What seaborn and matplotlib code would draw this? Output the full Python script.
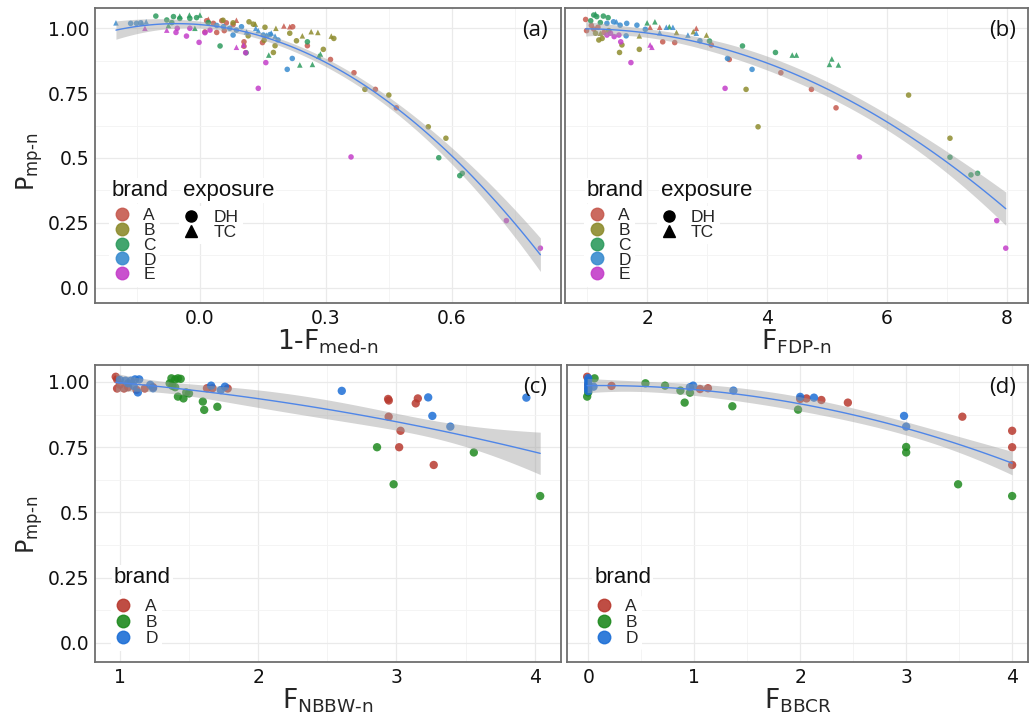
import numpy as np
import pandas as pd
import matplotlib
matplotlib.use("Agg")
import matplotlib.pyplot as plt
from matplotlib.lines import Line2D
from matplotlib.ticker import MultipleLocator
import seaborn as sns

# ---------------- data ----------------
# panel (a): x = 1-F_med-n, y = P_mp-n, points as (x, y)
a_A_dh = [(0.016, 1.028), (0.032, 1.018), (0.052, 1.028), (0.063, 1.02), (0.012, 0.985),
          (0.04, 0.983), (0.058, 0.99), (0.079, 1.013), (0.105, 0.947), (0.105, 0.93),
          (0.149, 0.944), (0.221, 1.005), (0.256, 0.932), (0.311, 0.879), (0.367, 0.828),
          (0.418, 0.764), (0.468, 0.693)]
a_A_tc = [(0.087, 1.03), (0.2, 1.008), (0.214, 1.005), (0.02, 1.034)]
a_B_dh = [(0.117, 1.024), (0.127, 1.015), (0.115, 0.97), (0.155, 1.003), (0.214, 0.98),
          (0.23, 0.951), (0.179, 0.932), (0.175, 0.906), (0.153, 0.953), (0.319, 0.96),
          (0.294, 0.918), (0.055, 1.03), (0.079, 1.02), (0.393, 0.764), (0.45, 0.742),
          (0.544, 0.62), (0.586, 0.576)]
a_B_tc = [(0.181, 0.999), (0.244, 0.97), (0.265, 0.986), (0.281, 0.983), (0.313, 0.969),
          (0.132, 1.015)]
a_C_dh = [(-0.105, 1.046), (-0.079, 1.031), (-0.063, 1.044), (-0.048, 1.037), (-0.024, 1.037),
          (-0.008, 1.04), (0.02, 1.021), (-0.067, 1.021), (0.048, 0.931), (0.11, 0.905),
          (0.256, 0.947), (0.569, 0.501), (0.619, 0.432), (0.625, 0.441)]
a_C_tc = [(-0.075, 1.01), (-0.048, 1.046), (-0.025, 1.05), (0.0, 1.05), (-0.012, 0.999),
          (0.164, 0.896), (0.238, 0.858), (0.268, 0.86), (0.283, 0.892), (0.287, 0.9)]
a_D_dh = [(-0.165, 1.018), (-0.151, 1.018), (-0.141, 1.02), (0.04, 1.01), (0.056, 1.005),
          (0.071, 0.999), (0.087, 0.992), (0.099, 1.005), (0.079, 0.973), (0.186, 0.954),
          (0.22, 0.883), (0.208, 0.841), (0.151, 0.973), (0.167, 0.975)]
a_D_tc = [(-0.2, 1.02), (-0.138, 1.02), (-0.128, 1.024), (0.133, 0.999), (0.139, 0.99),
          (0.159, 0.973), (0.17, 0.981), (0.179, 0.969), (0.111, 0.985)]
a_E_dh = [(-0.057, 0.983), (-0.054, 0.999), (-0.032, 0.969), (-0.024, 0.999), (-0.002, 0.945),
          (0.012, 0.982), (0.024, 0.992), (0.109, 0.905), (0.157, 0.867), (0.139, 0.768),
          (0.36, 0.504), (0.73, 0.259), (0.811, 0.153)]
a_E_tc = [(-0.131, 0.999), (-0.079, 0.992), (0.087, 0.926), (0.104, 0.935)]

# panel (b): x = F_FDP-n
b_A_dh = [(0.975, 1.033), (0.99, 0.99), (1.11, 0.996), (1.28, 0.983), (1.07, 1.01),
          (1.18, 1.003), (2.26, 0.947), (2.46, 0.944), (3.07, 0.935), (3.37, 0.879),
          (4.23, 0.828), (4.74, 0.764), (5.15, 0.693)]
b_A_tc = [(2.05, 1.003), (2.21, 1.003), (2.82, 0.999)]
b_B_dh = [(1.195, 0.954), (1.25, 0.96), (1.14, 0.98), (1.58, 0.935), (1.54, 0.906),
          (1.87, 0.918), (3.65, 0.764), (3.85, 0.62), (6.36, 0.742), (7.05, 0.576), (1.36, 0.99)]
b_B_tc = [(1.87, 0.97), (2.49, 0.983), (2.77, 0.986), (2.99, 0.973), (1.22, 0.98)]
b_C_dh = [(1.11, 1.05), (1.16, 1.044), (1.27, 1.046), (1.35, 1.04), (1.22, 1.021),
          (1.06, 1.028), (3.04, 0.95), (3.59, 0.931), (4.14, 0.906), (7.05, 0.503),
          (7.40, 0.435), (7.51, 0.441)]
b_C_tc = [(1.14, 1.054), (2.0, 1.02), (2.13, 1.024), (2.37, 1.005), (4.42, 0.896),
          (4.49, 0.896), (5.08, 0.881), (5.04, 0.86), (5.19, 0.858)]
b_D_dh = [(1.44, 1.024), (1.55, 1.011), (1.66, 1.018), (1.83, 1.011), (1.97, 0.995),
          (1.65, 0.97), (2.88, 0.951), (3.34, 0.883), (3.75, 0.841), (1.33, 1.018)]
b_D_tc = [(2.21, 0.982), (2.32, 1.003), (2.43, 1.003), (2.68, 0.973), (2.82, 0.98), (1.49, 1.024)]
b_E_dh = [(1.39, 0.98), (1.45, 0.967), (1.53, 0.973), (1.56, 0.947), (1.73, 0.867),
          (3.30, 0.768), (5.54, 0.504), (7.83, 0.259), (7.98, 0.153), (1.33, 0.973)]
b_E_tc = [(2.05, 0.935), (2.08, 0.926)]

# panel (c): x = F_NBBW-n
c_A = [(0.97, 1.02), (0.98, 1.01), (1.0, 0.99), (1.03, 0.975), (0.98, 0.975), (1.06, 0.98),
       (1.12, 0.97), (1.18, 0.975), (1.24, 0.98), (1.63, 0.976), (1.67, 0.976), (1.78, 0.975),
       (2.94, 0.935), (2.945, 0.929), (3.14, 0.918), (3.155, 0.937), (2.944, 0.867),
       (3.03, 0.813), (3.02, 0.75), (3.27, 0.682)]
c_B = [(1.36, 0.995), (1.373, 1.014), (1.40, 1.01), (1.42, 1.014), (1.44, 1.012), (1.38, 0.985),
       (1.40, 0.98), (1.42, 0.944), (1.46, 0.937), (1.48, 0.96), (1.50, 0.956), (1.60, 0.925),
       (1.61, 0.893), (1.705, 0.905), (2.86, 0.75), (2.98, 0.608), (3.56, 0.73), (4.04, 0.563)]
c_D = [(1.0, 1.008), (1.04, 1.005), (1.08, 1.005), (1.11, 1.01), (1.14, 1.01), (1.06, 0.995),
       (1.10, 0.985), (1.13, 0.96), (1.22, 0.989), (1.24, 0.976), (1.66, 0.986), (1.73, 0.969),
       (1.76, 0.982), (2.605, 0.966), (3.23, 0.941), (3.26, 0.87), (3.39, 0.829), (3.94, 0.94)]

# panel (d): x = F_BBCR
d_A = [(-0.01, 1.02), (0.0, 0.99), (0.0, 0.975), (0.22, 0.985), (1.055, 0.973), (1.13, 0.976),
       (2.0, 0.935), (2.06, 0.937), (2.2, 0.931), (2.45, 0.921), (3.53, 0.867), (4.0, 0.813),
       (4.0, 0.75), (4.0, 0.682)]
d_B = [(-0.01, 0.944), (0.0, 0.96), (0.06, 1.014), (0.54, 0.995), (0.725, 0.986), (0.87, 0.967),
       (0.96, 0.959), (0.91, 0.921), (1.36, 0.907), (1.98, 0.894), (3.0, 0.751), (3.0, 0.73),
       (3.49, 0.608), (4.0, 0.563)]
d_D = [(0.0, 1.015), (0.0, 1.005), (0.0, 0.995), (0.0, 0.985), (0.0, 0.975), (0.0, 0.965),
       (0.05, 0.982), (0.96, 0.98), (0.99, 0.986), (1.37, 0.967), (2.0, 0.943), (2.13, 0.94),
       (2.98, 0.87), (3.0, 0.829)]

brands5 = ["A", "B", "C", "D", "E"]
colors5 = ["#C65A4F", "#8E8C2E", "#2E9B5E", "#3A8CCF", "#C43EC9"]
brands3 = ["A", "B", "D"]
colors3 = ["#B83A2F", "#1F8A1F", "#1D6FD6"]
exposures = ["DH", "TC"]

LINE_COLOR = "#4F86E8"
FRAME = "#6E6E6E"


def build_frame(groups):
    rows = []
    for (brand, expo), pts in groups.items():
        for x, y in pts:
            rows.append({"x": x, "y": y, "brand": brand, "exposure": expo})
    return pd.DataFrame(rows)


df_a = build_frame({("A", "DH"): a_A_dh, ("A", "TC"): a_A_tc, ("B", "DH"): a_B_dh,
                    ("B", "TC"): a_B_tc, ("C", "DH"): a_C_dh, ("C", "TC"): a_C_tc,
                    ("D", "DH"): a_D_dh, ("D", "TC"): a_D_tc, ("E", "DH"): a_E_dh,
                    ("E", "TC"): a_E_tc})
df_b = build_frame({("A", "DH"): b_A_dh, ("A", "TC"): b_A_tc, ("B", "DH"): b_B_dh,
                    ("B", "TC"): b_B_tc, ("C", "DH"): b_C_dh, ("C", "TC"): b_C_tc,
                    ("D", "DH"): b_D_dh, ("D", "TC"): b_D_tc, ("E", "DH"): b_E_dh,
                    ("E", "TC"): b_E_tc})
df_c = build_frame({("A", "DH"): c_A, ("B", "DH"): c_B, ("D", "DH"): c_D})
df_d = build_frame({("A", "DH"): d_A, ("B", "DH"): d_B, ("D", "DH"): d_D})

sns.set_theme(style="white")
plt.rcParams["font.family"] = ["DejaVu Sans"]
plt.rcParams["mathtext.default"] = "regular"

fig = plt.figure(figsize=(10.30, 7.17), dpi=100)
ax_a = fig.add_axes([0.0922, 0.5774, 0.4524, 0.4114])
ax_b = fig.add_axes([0.5485, 0.5774, 0.4495, 0.4114])
ax_c = fig.add_axes([0.0922, 0.0767, 0.4524, 0.4142])
ax_d = fig.add_axes([0.5505, 0.0767, 0.4476, 0.4142])


def quad_band(df, n_grid=100):
    # 95% confidence band of y ~ x + x^2 (like geom_smooth(method = "lm"))
    x = df["x"].to_numpy()
    y = df["y"].to_numpy()
    X = np.column_stack([np.ones_like(x), x, x ** 2])
    beta, *_ = np.linalg.lstsq(X, y, rcond=None)
    dof = len(x) - 3
    sigma2 = np.sum((y - X @ beta) ** 2) / dof
    xtx_inv = np.linalg.inv(X.T @ X)
    xs = np.linspace(x.min(), x.max(), n_grid)
    G = np.column_stack([np.ones_like(xs), xs, xs ** 2])
    fit = G @ beta
    se = np.sqrt(sigma2 * np.sum((G @ xtx_inv) * G, axis=1))
    t = 1.96 + 2.4 / dof
    return xs, fit - t * se, fit + t * se


def draw_panel(ax, df, brands, colors, size, with_style):
    pal = dict(zip(brands, colors))
    if with_style:
        sns.scatterplot(data=df, x="x", y="y", hue="brand", style="exposure",
                        hue_order=brands, palette=pal, markers={"DH": "o", "TC": "^"},
                        s=size, alpha=0.85, edgecolor="none", legend=False, ax=ax)
    else:
        sns.scatterplot(data=df, x="x", y="y", hue="brand", hue_order=brands, palette=pal,
                        s=size, alpha=0.85, edgecolor="none", legend=False, ax=ax)
    xs, lo, hi = quad_band(df)
    ax.fill_between(xs, lo, hi, color="#A0A0A0", alpha=0.45, lw=0, zorder=2.5)
    sns.regplot(data=df, x="x", y="y", order=2, scatter=False, ci=None,
                color=LINE_COLOR, truncate=True, line_kws={"lw": 1.0}, ax=ax)
    ax.lines[-1].set_zorder(3)


def style_axes(ax, xlim, ylim, xmaj, ylab_y, label):
    ax.set_xlim(*xlim)
    ax.set_ylim(*ylim)
    ax.xaxis.set_major_locator(MultipleLocator(xmaj))
    ax.xaxis.set_minor_locator(MultipleLocator(xmaj / 2))
    ax.yaxis.set_major_locator(MultipleLocator(0.25))
    ax.yaxis.set_minor_locator(MultipleLocator(0.125))
    ax.grid(which="major", color="#EAEAEA", lw=0.9)
    ax.grid(which="minor", color="#F3F3F3", lw=0.6)
    ax.set_axisbelow(True)
    for sp in ax.spines.values():
        sp.set_color(FRAME)
        sp.set_linewidth(1.3)
    ax.tick_params(which="both", length=0, labelsize=13.5, colors="#111111", pad=4)
    if ylab_y is not None:
        ax.set_yticks([0, 0.25, 0.5, 0.75, 1.0])
        ax.set_yticklabels(["0.0", "0.25", "0.5", "0.75", "1.00"])
        ax.set_ylabel("P$_{mp\u2010n}$", fontsize=17)
        ax.yaxis.set_label_coords(-0.108, ylab_y)
    else:
        ax.set_yticklabels([])
        ax.set_ylabel("")
    ax.text(0.945, 0.925, label, transform=ax.transAxes, ha="center", va="center",
            fontsize=16, family="Open Sans", color="#111111")


def add_legend(ax, title, labels, handles, title_pos, box_pos, spacing):
    ax.text(title_pos[0], title_pos[1], title, transform=ax.transAxes, ha="left",
            va="center", fontsize=16, family="Liberation Sans", color="#111111", zorder=5,
            bbox=dict(fc="white", ec="none", pad=1.5))
    leg = ax.legend(handles, labels, loc="upper left", bbox_to_anchor=box_pos,
                    frameon=True, facecolor="white", edgecolor="none", framealpha=1,
                    borderaxespad=0, borderpad=0.25, handlelength=0.9, handletextpad=0.8,
                    labelspacing=spacing, prop={"family": "Liberation Sans", "size": 12.5})
    ax.add_artist(leg)


def brand_handles(colors):
    return [Line2D([], [], ls="none", marker="o", ms=9, color=c, alpha=0.9) for c in colors]


expo_handles = [Line2D([], [], ls="none", marker=m, ms=8, color="black") for m in ["o", "^"]]

draw_panel(ax_a, df_a, brands5, colors5, 16, True)
draw_panel(ax_b, df_b, brands5, colors5, 16, True)
draw_panel(ax_c, df_c, brands3, colors3, 36, False)
draw_panel(ax_d, df_d, brands3, colors3, 36, False)

style_axes(ax_a, (-0.25, 0.86), (-0.058, 1.077), 0.3, 0.48, "(a)")
style_axes(ax_b, (0.63, 8.35), (-0.058, 1.077), 2, None, "(b)")
style_axes(ax_c, (0.82, 4.19), (-0.073, 1.065), 1, 0.461, "(c)")
style_axes(ax_d, (-0.2, 4.15), (-0.073, 1.065), 1, None, "(d)")

ax_a.set_xticks([0.0, 0.3, 0.6])
ax_a.set_xticklabels(["0.0", "0.3", "0.6"])
ax_b.set_xticks([2, 4, 6, 8])
ax_c.set_xticks([1, 2, 3, 4])
ax_d.set_xticks([0, 1, 2, 3, 4])

ax_a.set_xlabel("1-F$_{med\u2010n}$", fontsize=19, labelpad=0)
ax_b.set_xlabel("F$_{FDP\u2010n}$", fontsize=19, labelpad=0)
ax_c.set_xlabel("F$_{NBBW\u2010n}$", fontsize=19, labelpad=0)
ax_d.set_xlabel("F$_{BBCR}$", fontsize=19, labelpad=0)

# legends sit in the lower-left corner, brand and exposure side by side
add_legend(ax_a, "brand", brands5, brand_handles(colors5), (0.036, 0.383), (0.031, 0.337), -0.02)
add_legend(ax_a, "exposure", exposures, expo_handles, (0.189, 0.383), (0.181, 0.33), -0.02)
add_legend(ax_b, "brand", brands5, brand_handles(colors5), (0.0475, 0.383), (0.042, 0.337), -0.02)
add_legend(ax_b, "exposure", exposures, expo_handles, (0.207, 0.383), (0.199, 0.33), -0.02)
add_legend(ax_c, "brand", brands3, brand_handles(colors3), (0.04, 0.283), (0.035, 0.227), 0.06)
add_legend(ax_d, "brand", brands3, brand_handles(colors3), (0.059, 0.283), (0.053, 0.227), 0.06)

fig.savefig("out.png", dpi=100)
